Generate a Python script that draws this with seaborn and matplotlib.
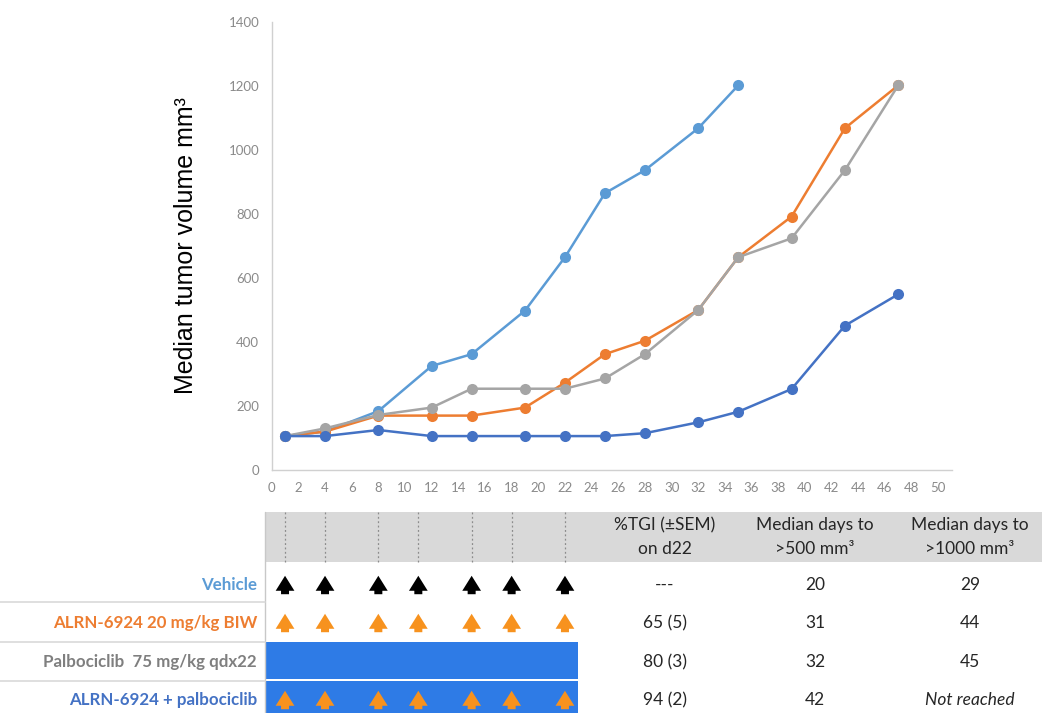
import matplotlib
matplotlib.use("Agg")
import matplotlib.pyplot as plt
from matplotlib.patches import Rectangle
from matplotlib.ticker import MultipleLocator
import numpy as np
import pandas as pd
import seaborn as sns

# ---------------- data ----------------
days_vehicle = [1, 4, 8, 12, 15, 19, 22, 25, 28, 32, 35]
vehicle = [106, 120, 184, 325, 362, 498, 665, 865, 937, 1068, 1202]
days_all = [1, 4, 8, 12, 15, 19, 22, 25, 28, 32, 35, 39, 43, 47]
alrn = [106, 120, 170, 170, 170, 195, 273, 362, 404, 500, 665, 792, 1068, 1202]
palbo = [106, 130, 172, 195, 254, 254, 254, 286, 362, 500, 665, 724, 937, 1202]
combo = [106, 106, 125, 106, 106, 106, 106, 106, 115, 149, 182, 253, 451, 549]

groups = ["Vehicle", "ALRN-6924 20 mg/kg BIW", "Palbociclib  75 mg/kg qdx22",
          "ALRN-6924 + palbociclib"]
line_colors = ["#5B9BD5", "#ED7D31", "#A5A5A5", "#4472C4"]
label_colors = ["#5B9BD5", "#ED7D31", "#7F7F7F", "#4472C4"]

dose_days = [1, 4, 8, 11, 15, 18, 22]
palbo_end_day = 23.0

tgi = ["---", "65 (5)", "80 (3)", "94 (2)"]
days500 = ["20", "31", "32", "42"]
days1000 = ["29", "44", "45", "Not reached"]
headers = ["%TGI (\u00b1SEM)\non d22", "Median days to\n>500 mm\u00b3", "Median days to\n>1000 mm\u00b3"]

df = pd.concat([
    pd.DataFrame({"day": days_vehicle, "vol": vehicle, "group": groups[0]}),
    pd.DataFrame({"day": days_all, "vol": alrn, "group": groups[1]}),
    pd.DataFrame({"day": days_all, "vol": palbo, "group": groups[2]}),
    pd.DataFrame({"day": days_all, "vol": combo, "group": groups[3]}),
])

# ---------------- style ----------------
sns.set_style("white")
plt.rcParams["font.family"] = ["Lato", "DejaVu Sans"]

W, H = 1042, 713
fig = plt.figure(figsize=(W / 100, H / 100), dpi=100)

px_per_day = 13.33
x0 = 271.7
xmax = 51
ax = fig.add_axes([x0 / W, (H - 470) / H, xmax * px_per_day / W, 448 / H])

sns.lineplot(data=df, x="day", y="vol", hue="group", hue_order=groups,
             palette=line_colors, marker="o", markersize=8, markeredgewidth=0,
             linewidth=1.8, ax=ax, legend=False, sort=False)

ax.set_xlim(0, xmax)
ax.set_ylim(0, 1400)
ax.xaxis.set_major_locator(MultipleLocator(2))
ax.xaxis.set_minor_locator(MultipleLocator(1))
ax.yaxis.set_major_locator(MultipleLocator(200))
ax.yaxis.set_minor_locator(MultipleLocator(40))
for s in ["top", "right"]:
    ax.spines[s].set_visible(False)
for s in ["left", "bottom"]:
    ax.spines[s].set_color("#D0D0D0")
    ax.spines[s].set_linewidth(1.0)
ax.tick_params(axis="both", which="both", direction="inout", color="#D0D0D0",
               labelcolor="#8A8A8A", labelsize=9.5)
ax.tick_params(axis="both", which="major", length=6, width=0.8)
ax.tick_params(axis="both", which="minor", length=4, width=0.8)
ax.tick_params(axis="y", pad=6)
ax.tick_params(axis="x", pad=6)
ax.set_xlabel("")
ax.set_ylabel("Median tumor volume mm\u00b3", fontsize=18, color="#000000",
              family=["Liberation Sans", "DejaVu Sans"], labelpad=22)

# ---------------- table ----------------
tab = fig.add_axes([x0 / W, 0, xmax * px_per_day / W, (H - 512) / H])
tab.set_xlim(0, xmax)
tab.set_ylim(713, 512)
tab.axis("off")

def px2day(px):
    return (px - x0) / px_per_day

left_edge = -0.5
# header band
tab.add_patch(Rectangle((left_edge, 512), px2day(W + 5) - left_edge, 50,
                        facecolor="#D9D9D9", edgecolor="none", clip_on=False, zorder=1))
for d in dose_days:
    tab.plot([d, d], [512, 562], linestyle=(0, (1.5, 2)), color="#8C8C8C", lw=0.9,
             clip_on=False, zorder=2)
# vertical border
tab.plot([left_edge, left_edge], [512, 713], color="#C8C8C8", lw=1, clip_on=False, zorder=2)
# row separators
for yy in [602, 642, 680.5]:
    tab.plot([px2day(0), left_edge], [yy, yy], color="#D9D9D9", lw=1.2, clip_on=False)

# palbociclib bars
bar_color = "#2E7BE6"
tab.add_patch(Rectangle((left_edge, 642), palbo_end_day - left_edge, 36.5,
                        facecolor=bar_color, edgecolor="none", clip_on=False, zorder=1))
tab.add_patch(Rectangle((left_edge, 681), palbo_end_day - left_edge, 33,
                        facecolor=bar_color, edgecolor="none", clip_on=False, zorder=1))

row_y = [585, 623, 662, 700]
arrow_rows = [(row_y[0], "#000000"), (row_y[1], "#F7921E"), (row_y[3], "#F7921E")]
for yc, col in arrow_rows:
    for d in dose_days:
        tab.annotate("", xy=(d, yc - 12), xytext=(d, yc + 12),
                     arrowprops=dict(arrowstyle="simple,head_length=0.6,head_width=0.75,tail_width=0.32",
                                     color=col, lw=0, mutation_scale=18),
                     annotation_clip=False, zorder=3)

# row labels
for yc, name, col in zip(row_y, groups, label_colors):
    tab.text(px2day(257), yc, name, ha="right", va="center", fontsize=12.2,
             fontweight="bold", color=col, clip_on=False)

# table columns
col_x = [px2day(665), px2day(815), px2day(970)]
for cx, htxt in zip(col_x, headers):
    tab.text(cx, 537, htxt, ha="center", va="center", fontsize=12.5, color="#262626",
             linespacing=1.55, clip_on=False, zorder=3)
for i, yc in enumerate(row_y):
    for cx, vals in zip(col_x, [tgi, days500, days1000]):
        style = "italic" if vals[i] == "Not reached" else "normal"
        tab.text(cx, yc, vals[i], ha="center", va="center", fontsize=12.5,
                 color="#262626", style=style, clip_on=False)

fig.savefig("out.png", dpi=100)
